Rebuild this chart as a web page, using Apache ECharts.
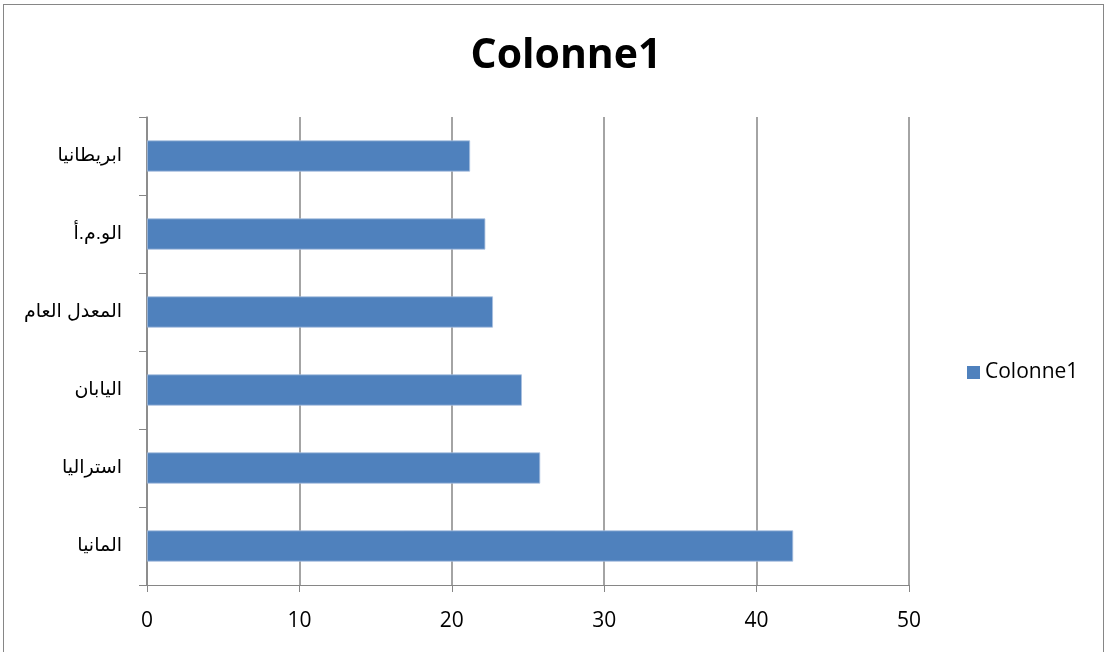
<!DOCTYPE html>
<html>
<head>
<meta charset="utf-8">
<script src="https://cdn.jsdelivr.net/npm/echarts@6/dist/echarts.min.js"></script>
<style>
  html, body { margin: 0; padding: 0; background: #fff; }
  .frame {
    position: absolute; left: 3px; top: 4px; width: 1101px; height: 660px;
    border: 1px solid #868686; box-sizing: border-box;
  }
  #chart { position: absolute; left: 0; top: 0; width: 1108px; height: 652px; }
</style>
</head>
<body>
<div class="frame"></div>
<div id="chart"></div>
<script>
// categories listed bottom to top
const categories = ['المانيا', 'استراليا', 'اليابان', 'المعدل العام', 'الو.م.أ', 'ابريطانيا']
const values = [42.4, 25.8, 24.6, 22.7, 22.2, 21.2]
const seriesName = 'Colonne1'

const chart = echarts.init(document.getElementById('chart'))
const font = '"Liberation Sans", "DejaVu Sans", sans-serif'

chart.setOption({
  animation: false,
  title: {
    text: seriesName,
    left: 561,
    textAlign: 'center',
    top: 31,
    textStyle: { fontSize: 41, fontWeight: 'bold', color: '#000', fontFamily: 'Open Sans' }
  },
  legend: {
    orient: 'vertical',
    left: 962,
    top: 357,
    icon: 'rect',
    itemWidth: 13,
    itemHeight: 13,
    itemGap: 8,
    itemStyle: { borderWidth: 0 },
    textStyle: { fontSize: 21, color: '#000', fontFamily: 'Open Sans' },
    data: [seriesName]
  },
  grid: { left: 147, right: 199, top: 117, bottom: 67 },
  xAxis: {
    type: 'value',
    min: 0,
    max: 50,
    interval: 10,
    axisLine: { show: true, lineStyle: { color: '#868686', width: 1 } },
    axisTick: { show: true, length: 7, lineStyle: { color: '#868686' } },
    splitLine: { show: true, lineStyle: { color: '#868686', width: 1.5 } },
    axisLabel: { fontSize: 21, color: '#000', margin: 26, fontFamily: 'Open Sans' }
  },
  yAxis: {
    type: 'category',
    data: categories,
    axisLine: { show: true, lineStyle: { color: '#868686', width: 1.5 } },
    axisTick: { show: true, length: 8, alignWithLabel: false, lineStyle: { color: '#868686' } },
    axisLabel: { fontSize: 19, color: '#000', margin: 25, fontFamily: font }
  },
  series: [{
    name: seriesName,
    type: 'bar',
    data: values,
    barCategoryGap: '60%',
    itemStyle: { color: '#4F81BD', borderColor: '#A9C0E0', borderWidth: 0.8 }
  }]
})
</script>
</body>
</html>
